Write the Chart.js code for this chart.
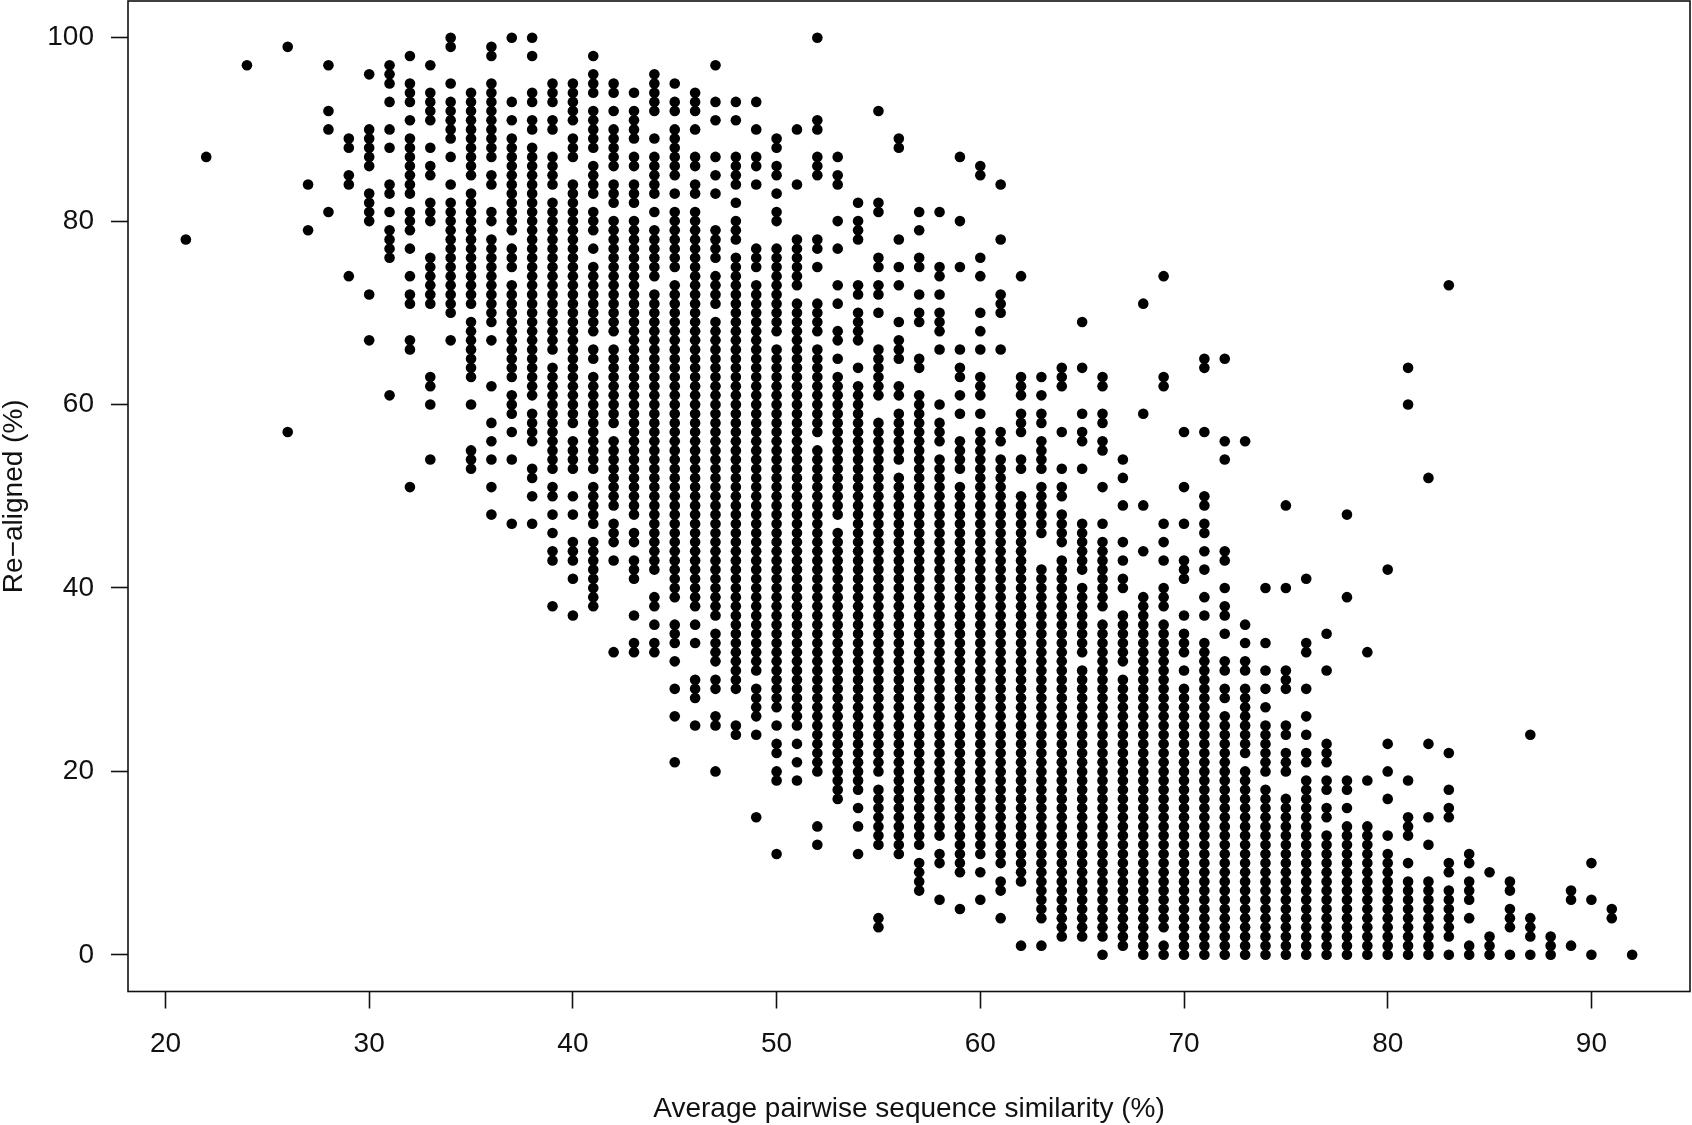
<!DOCTYPE html>
<html>
<head>
<meta charset="utf-8">
<title>Re-aligned fraction against sequence similarity</title>
<script src="https://cdn.jsdelivr.net/npm/chart.js@4/dist/chart.umd.min.js"></script>
<style>
  html, body { margin: 0; padding: 0; background: #fff; }
  canvas { display: block; }
</style>
</head>
<body>
<canvas id="plot" width="1692" height="1125"></canvas>
<script>
// Average pairwise sequence similarity (%), one entry per occupied column.
const similarity = [21,22,24,26,27,28,29,30,31,32,33,34,35,36,37,38,39,40,41,42,43,44,45,46,47,48,49,50,51,52,53,54,55,56,57,58,59,60,61,62,63,64,65,66,67,68,69,70,71,72,73,74,75,76,77,78,79,80,81,82,83,84,85,86,87,88,89,90,91,92];

// Re-aligned (%) in each column, written as single values and hi-lo runs.
const realignedRuns = [
  "78",
  "87",
  "97",
  "99 57",
  "84 79",
  "97 92 90 81",
  "89 88 85 84 74",
  "96 90-86 83-80 72 67",
  "97-95 93 90 88 84 83 81 79-76 61",
  "98 95-93 91 89-83 81-79 77 74 72 71 67 66 51",
  "97 94-91 88 86 85 82-80 76-71 63 62 60 54",
  "100 99 95 93-89 87 84 82-70 67",
  "94-85 83-71 69-63 60 55-53",
  "99 98 95-87 85 84 81 80 78-69 67 62 58 56 54 51 48",
  "100 93 91 89-79 77-75 73-63 61-59 57 54 47",
  "100 98 94 93 91 90 88-61 59-56 53 52 50 47",
  "95-93 91 90 87-84 82-66 64-53 51 50 48 46 44 43 38",
  "95-91 89-87 84-58 56-53 50 48 45-43 41 37",
  "98 96-94 92-88 86-83 81-79 77 75-68 66 65 63-53 51-47 45-38",
  "95 94 92 90-86 84-82 80-68 66-58 56-49 47-45 43 33",
  "94 92-89 87 86 84-82 80-48 46 45 43-41 37 34 33",
  "96-92 89 87-83 81 79-74 72-42 39 38 36 34 33",
  "95 93 92 90-85 83 81-75 73-39 36-34 32 29 26 21",
  "94-92 90 87 86 84 83 81-38 36 34 30-28 25",
  "97 93 91 87 85 83 79-76 74-71 69-37 35-32 30 29 26 25 20",
  "93 91 87-84 82 80-78 76-29 25 24",
  "93 90 87 86 84 77-75 73-31 29-26 24 15",
  "89 88 86 85 83 81 80 77-68 66-27 25 23 22 20 19 11",
  "90 84 78-73 71-25 23 21 19",
  "100 91 90 87-85 78 77 75 71-68 66-57 55-20 14 12",
  "87 85 84 80 77 73 71 68 67 65 63-48 46-17",
  "82 80-78 73 72 70-67 64 62-18 16 14 11",
  "92 82 81 76 75 73 72 70 66-61 58-20 18-12 4 3",
  "89 88 78 75 73 69 67-65 62 61 59-54 52-11",
  "81 79 76 75 72 70 69 65 64 61-12 10-7",
  "81 75 74 72 70-68 66 60 58-56 54-13 11 10 6",
  "87 80 75 66 64 63 61 59 56-53 51-9 5",
  "86 85 76 74 70 68 66 63-61 59 57-11 9 6",
  "84 78 72-70 66 57 56 54-10 8 7 4",
  "74 63-61 59-57 54 53 50-8 1",
  "63 61 59 58 56-53 51-46 42-4 1",
  "64-62 57 53 51 50 48-45 43-2",
  "69 64 59 57 56 53 47-42 40-33 31-2",
  "63 62 59 58 56 55 51 47 45-38 36-2 0",
  "54 52 49 45 43 41 40 37-32 30-1",
  "71 59 49 44 39-0",
  "74 63 62 47 45 43 40-38 36-3 1 0",
  "57 51 47 43-41 37 35-33 31 29-0",
  "65 64 57 50 49 47 46 44 42 39 37 34-0",
  "65 56 54 44 43 40 38 37 35 32 31 29 28 26-0",
  "56 36 34 32 31 29-22 20-0",
  "40 34 31 29 27 25-20 18-0",
  "49 40 31-29 25 24 22-20 17-0",
  "41 34 33 29 26 24 22 21 19-0",
  "35 31 23-21 19 18 16 15 13-0",
  "48 39 19 18 16 14-0",
  "33 19 14-0",
  "42 23 20 17 13 11-0",
  "64 60 19 15-13 10 8-0",
  "52 23 15 12 8-0",
  "73 22 18 16 15 10 9 7-2 0",
  "11 10 8-6 4 1 0",
  "9 2-0",
  "8 7 5-3 0",
  "24 4-2 0",
  "2-0",
  "7 6 1",
  "10 6 0",
  "5 4",
  "0"
];

const xTickValues = [20, 30, 40, 50, 60, 70, 80, 90];
const yTickValues = [0, 20, 40, 60, 80, 100];
const xTitle = "Average pairwise sequence similarity (%)";
const yTitle = "Re\u2212aligned (%)";

// Expand the runs into one {x, y} record per dot.
const points = [];
similarity.forEach((x, i) => {
  realignedRuns[i].split(" ").forEach(token => {
    const [hi, lo] = token.split("-").map(Number);
    const bottom = lo === undefined ? hi : lo;
    for (let y = hi; y >= bottom; y--) points.push({ x, y });
  });
});

const ink = "#111";
const labelFont = { family: "'Liberation Sans', Arial, sans-serif", size: 28 };

// Closes the plot frame on the top and right sides.
const frame = {
  id: "frame",
  afterDatasetsDraw(chart) {
    const { ctx, chartArea: a } = chart;
    ctx.save();
    ctx.strokeStyle = ink;
    ctx.lineWidth = 1.6;
    ctx.strokeRect(a.left, a.top, a.right - a.left, a.bottom - a.top);
    ctx.restore();
  }
};

const axisGrid = {
  drawOnChartArea: false,
  drawTicks: true,
  tickLength: 17,
  tickWidth: 1.6,
  tickColor: ink
};

new Chart(document.getElementById("plot"), {
  type: "scatter",
  data: {
    datasets: [{
      data: points,
      pointStyle: "circle",
      pointRadius: 5.3,
      pointBorderWidth: 0,
      backgroundColor: "#000"
    }]
  },
  options: {
    responsive: false,
    animation: false,
    layout: { autoPadding: false, padding: { top: 1, right: 2, left: 0, bottom: 0 } },
    plugins: { legend: { display: false }, tooltip: { enabled: false } },
    scales: {
      x: {
        type: "linear",
        min: 18.16,
        max: 94.84,
        afterBuildTicks: s => { s.ticks = xTickValues.map(value => ({ value })); },
        afterFit: s => { s.height = 133.5; s.paddingLeft = 0; s.paddingRight = 0; },
        grid: axisGrid,
        border: { display: false },
        ticks: { color: ink, font: labelFont, padding: 19, maxRotation: 0, autoSkip: false },
        title: { display: true, text: xTitle, color: ink, font: { ...labelFont, lineHeight: 1.1 }, padding: { top: 30, bottom: 0 } }
      },
      y: {
        type: "linear",
        min: -4,
        max: 104,
        afterBuildTicks: s => { s.ticks = yTickValues.map(value => ({ value })); },
        afterFit: s => { s.width = 128; s.paddingTop = 0; s.paddingBottom = 0; },
        grid: axisGrid,
        border: { display: false },
        ticks: { color: ink, font: labelFont, padding: 17, autoSkip: false },
        title: { display: true, text: yTitle, color: ink, font: { ...labelFont, lineHeight: 1 }, padding: { top: 0, bottom: 0 } }
      }
    }
  },
  plugins: [frame]
});
</script>
</body>
</html>
